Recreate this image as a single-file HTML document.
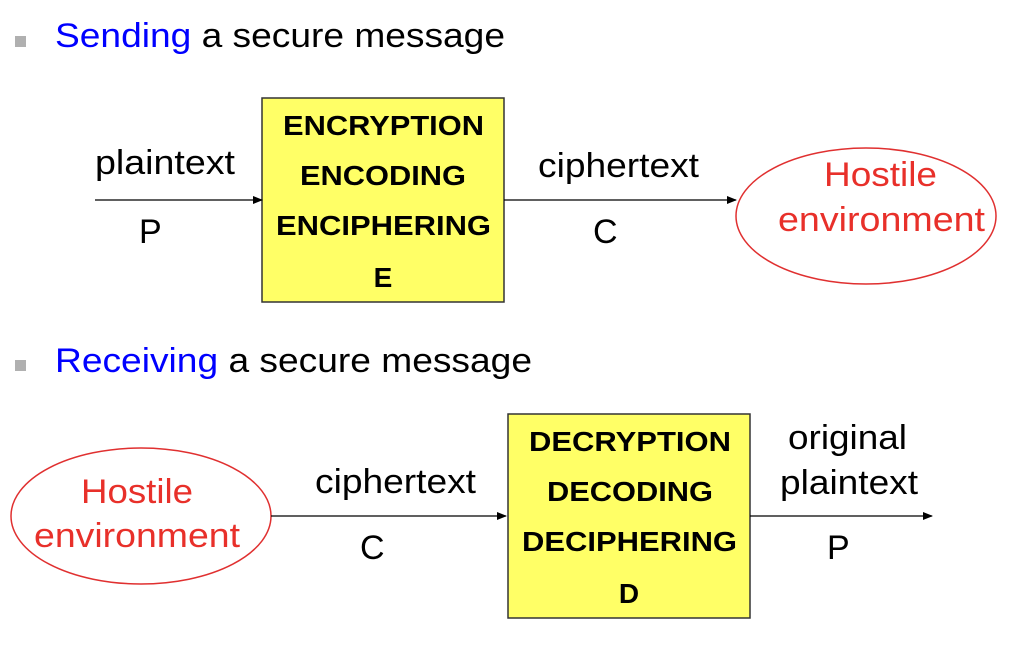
<!DOCTYPE html>
<html><head><meta charset="utf-8"><style>
html,body{margin:0;padding:0;background:#fff;}
svg{display:block;font-family:"Liberation Sans",Arial,sans-serif;}
</style></head><body>
<svg width="1022" height="664" viewBox="0 0 1022 664" xmlns="http://www.w3.org/2000/svg">
<defs>
<marker id="a" markerWidth="10" markerHeight="8" refX="9" refY="4" orient="auto" markerUnits="userSpaceOnUse">
<path d="M0,0 L10,4 L0,8 z" fill="#000"/></marker>
</defs>
<!-- section 1 -->
<rect x="15" y="36" width="11" height="11" fill="#b0b0b0"/>
<text x="55" y="47" font-size="34" textLength="450" lengthAdjust="spacingAndGlyphs"><tspan fill="#0000ff">Sending</tspan><tspan fill="#000"> a secure message</tspan></text>
<rect x="262" y="98" width="242" height="204" fill="#ffff66" stroke="#333" stroke-width="1.5"/>
<g font-size="28" font-weight="bold" fill="#000">
<text x="283" y="135" textLength="201" lengthAdjust="spacingAndGlyphs">ENCRYPTION</text>
<text x="300" y="185" textLength="166" lengthAdjust="spacingAndGlyphs">ENCODING</text>
<text x="276" y="235" textLength="215" lengthAdjust="spacingAndGlyphs">ENCIPHERING</text>
<text x="383" y="287" text-anchor="middle">E</text>
</g>
<g font-size="34" fill="#000">
<text x="95" y="174" textLength="140" lengthAdjust="spacingAndGlyphs">plaintext</text>
<text x="139" y="243">P</text>
<text x="538" y="177" textLength="161" lengthAdjust="spacingAndGlyphs">ciphertext</text>
<text x="593" y="243">C</text>
</g>
<line x1="95" y1="200" x2="262" y2="200" stroke="#000" stroke-width="1.3" marker-end="url(#a)"/>
<line x1="504" y1="200" x2="736" y2="200" stroke="#000" stroke-width="1.3" marker-end="url(#a)"/>
<ellipse cx="866" cy="216" rx="130" ry="68" fill="none" stroke="#e03030" stroke-width="1.5"/>
<g font-size="34" fill="#e8302a">
<text x="824" y="186" textLength="113" lengthAdjust="spacingAndGlyphs">Hostile</text>
<text x="778" y="231" textLength="207" lengthAdjust="spacingAndGlyphs">environment</text>
</g>
<!-- section 2 -->
<rect x="15" y="360" width="11" height="11" fill="#b0b0b0"/>
<text x="55" y="372" font-size="34" textLength="477" lengthAdjust="spacingAndGlyphs"><tspan fill="#0000ff">Receiving</tspan><tspan fill="#000"> a secure message</tspan></text>
<ellipse cx="141" cy="516" rx="130" ry="68" fill="none" stroke="#e03030" stroke-width="1.5"/>
<g font-size="34" fill="#e8302a">
<text x="81" y="503" textLength="112" lengthAdjust="spacingAndGlyphs">Hostile</text>
<text x="34" y="547" textLength="206" lengthAdjust="spacingAndGlyphs">environment</text>
</g>
<line x1="271" y1="516" x2="506" y2="516" stroke="#000" stroke-width="1.3" marker-end="url(#a)"/>
<g font-size="34" fill="#000">
<text x="315" y="493" textLength="161" lengthAdjust="spacingAndGlyphs">ciphertext</text>
<text x="360" y="559">C</text>
</g>
<rect x="508" y="414" width="242" height="204" fill="#ffff66" stroke="#333" stroke-width="1.5"/>
<g font-size="28" font-weight="bold" fill="#000">
<text x="529" y="451" textLength="202" lengthAdjust="spacingAndGlyphs">DECRYPTION</text>
<text x="547" y="501" textLength="166" lengthAdjust="spacingAndGlyphs">DECODING</text>
<text x="522" y="551" textLength="215" lengthAdjust="spacingAndGlyphs">DECIPHERING</text>
<text x="629" y="603" text-anchor="middle">D</text>
</g>
<line x1="750" y1="516" x2="932" y2="516" stroke="#000" stroke-width="1.3" marker-end="url(#a)"/>
<g font-size="34" fill="#000">
<text x="788" y="449" textLength="119" lengthAdjust="spacingAndGlyphs">original</text>
<text x="780" y="494" textLength="138" lengthAdjust="spacingAndGlyphs">plaintext</text>
<text x="827" y="559">P</text>
</g>
</svg>
</body></html>
